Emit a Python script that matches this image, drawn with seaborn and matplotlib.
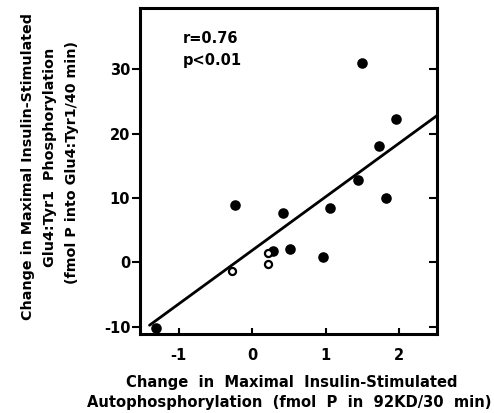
import matplotlib
matplotlib.use("Agg")
import matplotlib.pyplot as plt
import seaborn as sns
import pandas as pd

# filled circles
filled_x = [-1.31, -0.23, 0.42, 0.51, 0.28, 0.97, 1.06, 1.44, 1.50, 1.73, 1.83, 1.96]
filled_y = [-10.2, 9.0, 7.7, 2.1, 1.75, 0.9, 8.5, 12.8, 31.0, 18.1, 10.0, 22.3]
# open circles
open_x = [-0.27, 0.21, 0.21]
open_y = [-1.35, -0.3, 1.4]
# regression line ends
fit_x = [-1.40, 2.52]
fit_y = [-9.74, 22.8]

x_ticks = [-1, 0, 1, 2]
y_ticks = [-10, 0, 10, 20, 30]

filled = pd.DataFrame({"x": filled_x, "y": filled_y})
opened = pd.DataFrame({"x": open_x, "y": open_y})
fit = pd.DataFrame({"x": fit_x, "y": fit_y})

sns.set_style("ticks", {"axes.edgecolor": "black", "text.color": "black",
                        "xtick.color": "black", "ytick.color": "black"})
plt.rcParams["font.family"] = ["DejaVu Sans"]
plt.rcParams["font.weight"] = "bold"

fig = plt.figure(figsize=(4.94, 4.13), dpi=100)
ax = fig.add_axes([0.2834, 0.1913, 0.6012, 0.7893])

sns.lineplot(data=fit, x="x", y="y", ax=ax, color="black", lw=2)
sns.scatterplot(data=filled, x="x", y="y", ax=ax, color="black",
                s=58, edgecolor="black", linewidth=0, zorder=3)
sns.scatterplot(data=opened, x="x", y="y", ax=ax, facecolor="white",
                s=26, edgecolor="black", linewidth=1.6, zorder=3)

ax.set_xlim(-1.53, 2.52)
ax.set_ylim(-11.1, 39.5)
ax.set_xticks(x_ticks)
ax.set_yticks(y_ticks)
ax.set_xticklabels(["-1", "0", "1", "2"], fontsize=10.5, fontweight="bold")
ax.set_yticklabels(["-10", "0", "10", "20", "30"], fontsize=10.5, fontweight="bold")
ax.tick_params(axis="y", which="both", direction="out", length=6, width=1.5,
               right=True, pad=1, colors="black")
ax.tick_params(axis="x", direction="in", length=4, width=1.5, pad=10, colors="black")
# right spine ticks point inward
for t in ax.yaxis.get_major_ticks():
    t.tick2line.set_marker(matplotlib.lines.TICKLEFT)
    t.tick2line.set_markersize(6)
for s in ax.spines.values():
    s.set_linewidth(2.2)
    s.set_color("black")
ax.set_xlabel("")
ax.set_ylabel("")

ax.text(0.145, 0.905, "r=0.76", transform=ax.transAxes, fontsize=10.5,
        fontweight="bold", va="center", ha="left", color="black")
ax.text(0.145, 0.84, "p<0.01", transform=ax.transAxes, fontsize=10.5,
        fontweight="bold", va="center", ha="left", color="black")

W, H = 494, 413
fig.text(292 / W, 1 - 383 / H, "Change  in  Maximal  Insulin-Stimulated",
         ha="center", va="center", fontsize=10.6, fontweight="bold", color="black")
fig.text(289 / W, 1 - 402 / H, "Autophosphorylation  (fmol  P  in  92KD/30  min)",
         ha="center", va="center", fontsize=10.6, fontweight="bold", color="black")

fig.text(28 / W, 1 - 167 / H, "Change in Maximal Insulin-Stimulated",
         ha="center", va="center", rotation=90, fontsize=10.3, fontweight="bold",
         color="black")
fig.text(50 / W, 1 - 157 / H, "Glu4:Tyr1  Phosphorylation",
         ha="center", va="center", rotation=90, fontsize=10.3, fontweight="bold",
         color="black")
fig.text(72 / W, 1 - 162 / H, "(fmol P into Glu4:Tyr1/40 min)",
         ha="center", va="center", rotation=90, fontsize=10.3, fontweight="bold",
         color="black")

fig.savefig("out.png", dpi=100)
